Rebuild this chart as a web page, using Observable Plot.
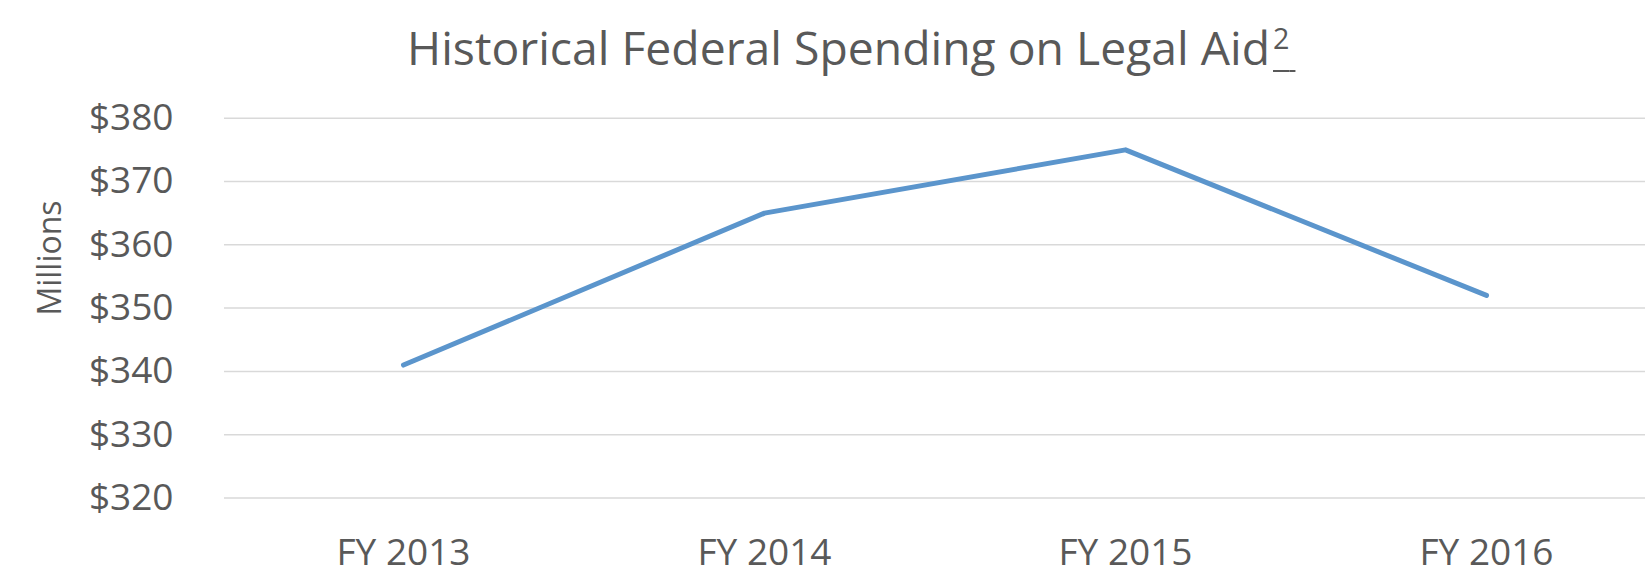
<!DOCTYPE html>
<html><head><meta charset="utf-8">
<script src="https://cdn.jsdelivr.net/npm/d3@7"></script>
<script src="https://cdn.jsdelivr.net/npm/@observablehq/plot@0.6"></script>
<style>
body{margin:0;background:#fff;}
#wrap{position:relative;width:1645px;height:576px;overflow:hidden;font-family:"Open Sans",sans-serif;background:#fff;}
#title{position:relative;height:80px;}
#title span.t{position:absolute;left:407px;top:24px;font-size:46.3px;line-height:1;color:#595959;white-space:nowrap;}
.fn{margin-left:3px;text-decoration:underline;text-decoration-thickness:2px;text-underline-offset:5px;}
.fn sup{font-size:62%;}
#chart svg{display:block;}
</style></head>
<body><div id="wrap"><div id="title"><span class="t">Historical Federal Spending on Legal Aid<span class="fn"><sup>2</sup>&#8239;</span></span></div><div id="chart"></div></div>
<script>
const years = ["FY 2013","FY 2014","FY 2015","FY 2016"];
const spending = [341,365,375,352];
const yTicks = [320,330,340,350,360,370,380];
const data = years.map((y,i)=>({year:y, value:spending[i]}));
const chart = Plot.plot({
  width:1645, height:496,
  marginLeft:224, marginRight:0, marginTop:37.7, marginBottom:78.5,
  style:{fontFamily:"Open Sans", fontSize:"37px", color:"#595959", background:"#fff"},
  x:{type:"point", domain:years, range:[222,1666], padding:0.5, label:null},
  y:{domain:[320,380], label:null},
  marks:[
    Plot.ruleY(yTicks,{stroke:"#d9d9d9", strokeWidth:1.5}),
    Plot.axisY({ticks:yTicks, tickFormat:d=>"$"+d, tickSize:0, tickPadding:51, label:null, fontSize:37, fill:"#595959"}),
    Plot.axisX({tickSize:0, tickPadding:41.2, label:null, fontSize:37, fill:"#595959"}),
    Plot.line(data,{x:"year", y:"value", stroke:"#5b95cc", strokeWidth:5}),
    Plot.text(["Millions"], {frameAnchor:"top-left", dx:-174, dy:139.8, rotate:-90, textAnchor:"middle", lineAnchor:"middle", fontSize:32, fill:"#595959"})
  ]
});
document.getElementById("chart").appendChild(chart);
</script></body></html>
